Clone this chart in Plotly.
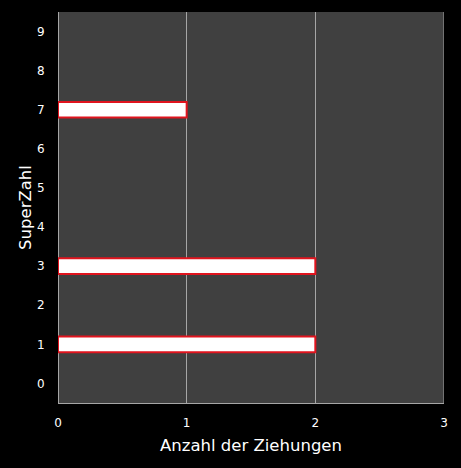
import plotly.graph_objects as go

# -- datos: SuperZahl y numero de ziehungen
superzahl = [0, 1, 2, 3, 4, 5, 6, 7, 8, 9]
anzahl = [0, 2, 0, 2, 0, 0, 0, 1, 0, 0]

# solo barras con valor > 0 (las de cero no se dibujan)
y_bar = [s for s, a in zip(superzahl, anzahl) if a > 0]
x_bar = [a for a in anzahl if a > 0]

fig = go.Figure(data=[go.Bar(x=x_bar, y=y_bar, orientation='h', width=0.4,
                             marker=dict(color='white', line=dict(color='#e0141e', width=2)))])

fig.update_layout(width=461, height=468, autosize=False,
                  paper_bgcolor='black', plot_bgcolor='#404040',
                  margin=dict(l=58, r=17, t=12, b=65, pad=0),
                  font=dict(family='DejaVu Sans', color='white', size=12),
                  showlegend=False,
                  xaxis=dict(title=dict(text='Anzahl der Ziehungen', font=dict(size=16.5), standoff=10),
                             range=[0, 3], dtick=1, showgrid=True, gridcolor='#a6a6a6', gridwidth=1,
                             zeroline=True, zerolinecolor='#a6a6a6', zerolinewidth=1,
                             showline=True, linecolor='#a6a6a6', linewidth=1,
                             ticks='outside', tickcolor='rgba(0,0,0,0)', ticklen=9,
                             tickfont=dict(size=12)),
                  yaxis=dict(title=dict(text='SuperZahl', font=dict(size=16.5), standoff=1),
                             range=[-0.5, 9.5], tickvals=superzahl, showgrid=False, zeroline=False,
                             ticks='outside', tickcolor='rgba(0,0,0,0)', ticklen=10,
                             tickfont=dict(size=12)))

fig.add_shape(type='line', xref='x', yref='paper', x0=3, x1=3, y0=0, y1=1,
              line=dict(color='#a6a6a6', width=1))

fig.write_html("out.html", config={'displayModeBar': False},
               post_script="document.body.style.margin='0';")
